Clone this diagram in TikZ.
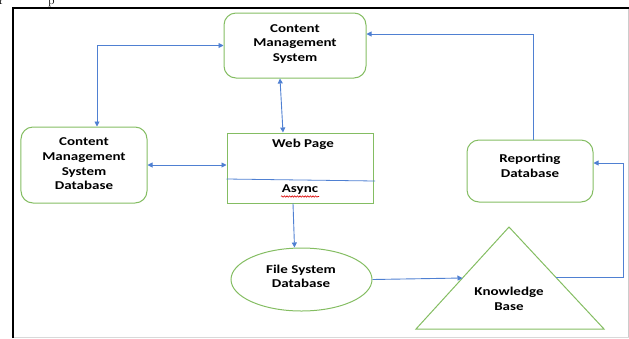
\documentclass[tikz,border=0pt]{standalone}
\usepackage{fontspec}
\usetikzlibrary{arrows.meta,shapes.geometric,decorations.pathmorphing}
\newfontfamily\lab[FakeStretch=1.25]{Carlito}
\definecolor{bgreen}{HTML}{84BD62}
\definecolor{cblue}{HTML}{4F80D2}
\tikzset{
  lbl/.style={font=\lab\bfseries\fontsize{12bp}{14.6bp}\selectfont, align=center, text=black, inner sep=0pt},
  gline/.style={draw=bgreen, line width=1bp},
  rbox/.style={gline, rounded corners=12bp},
  conn/.style={draw=cblue, line width=0.9bp},
  tip/.style={-{Triangle[length=5bp,width=5bp]}},
  btip/.style={{Triangle[length=5bp,width=5bp]}-{Triangle[length=5bp,width=5bp]}}
}
\begin{document}
\begin{tikzpicture}[x=1bp,y=-1bp]
\useasboundingbox (0,0) rectangle (629,338);
\clip (0,0) rectangle (629,338);
% cropped text fragment at the top
\node[anchor=base west, inner sep=0pt, font=\fontsize{12bp}{14bp}\selectfont] (fragA) at (-1,4) {r};
\node[anchor=base west, inner sep=0pt, font=\fontsize{12bp}{14bp}\selectfont] (fragB) at (48,4) {p};
% frame
\draw[black!20, line width=0.8bp] (628,8) -- (628,338);
\draw[black!15, line width=0.8bp] (13,337) -- (629,337);
\draw[black, line width=2bp] (13,338) -- (13,8) -- (629,8);
% nodes
\node[rbox, minimum width=142bp, minimum height=65bp] (cms) at (295,45.5) {};
\node[lbl] (cmsT) at (295,44) {Content\\Management\\System};
\node[rbox, minimum width=126bp, minimum height=76bp] (cmsdb) at (84,165) {};
\node[lbl] (cmsdbT) at (84,164) {Content\\Management\\System\\Database};
\node[rbox, minimum width=126bp, minimum height=62bp] (rep) at (530,171) {};
\node[lbl] (repT) at (530,166) {Reporting\\Database};
\node[gline, rectangle, minimum width=146bp, minimum height=70bp, inner sep=0pt] (web) at (300,168) {};
\node[lbl] (webT) at (303,144) {Web Page};
\node[lbl] (async) at (300,190) {Async};
\draw[cblue, line width=0.8bp] (web.west |- 0,179) -- (375,181);
\draw[red!85!black, line width=0.6bp, decorate, decoration={snake, amplitude=0.7bp, segment length=2.6bp}] (281,196.5) -- (319,196.5);
\node[gline, ellipse, minimum width=141bp, minimum height=63bp, inner sep=0pt] (fsd) at (301.5,279.5) {};
\node[lbl] (fsdT) at (301,276.5) {File System\\Database};
\coordinate (kbA) at (509,227);
\coordinate (kbBL) at (416,329);
\coordinate (kbBR) at (604,329);
\draw[gline] (kbA) -- (kbBR) -- (kbBL) -- cycle;
\node[lbl] (kb) at (509,299) {Knowledge\\Base};
\coordinate (kbL) at (462.5,278);
\coordinate (kbR) at (556,277);
% connectors
\draw[conn, btip] ([xshift=13bp]cmsdb.north) |- (cms.west);
\draw[conn, btip] ([xshift=-15bp]cms.south) -- ([xshift=-17bp]web.north);
\draw[conn, btip] (cmsdb.east) -- (cmsdb.east -| web.west);
\draw[conn, tip] ([xshift=-7bp]web.south) -- ([xshift=-7bp]fsd.north);
\draw[conn, tip] (fsd.east) -- (kbL);
\draw[conn, tip] (kbR) -- ++(67,0) |- ([yshift=8bp]rep.east);
\draw[conn, tip] ([xshift=3bp]rep.north) |- ([yshift=11.5bp]cms.east);
\end{tikzpicture}
\end{document}
